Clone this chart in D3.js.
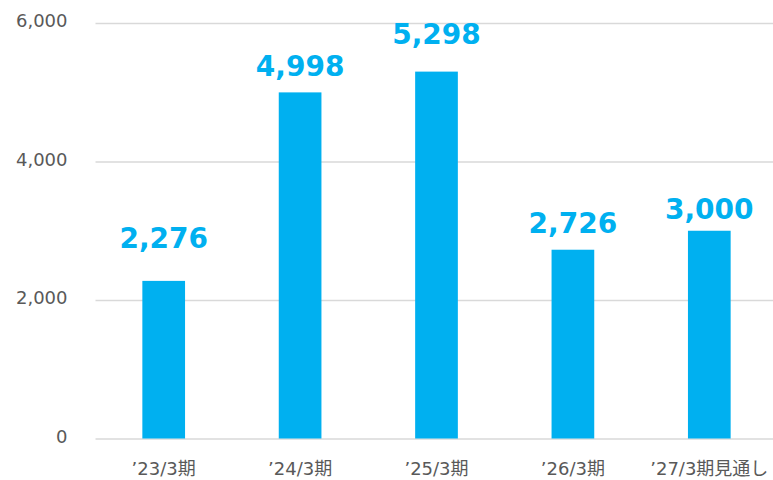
<!DOCTYPE html>
<html>
<head>
<meta charset="utf-8">
<script src="https://cdn.jsdelivr.net/npm/d3@7"></script>
<style>
  body { margin: 0; background: #fff; }
  svg { display: block; }
  svg text { font-family: "DejaVu Sans", "Noto Sans CJK JP", sans-serif; }
</style>
</head>
<body>
<svg></svg>
<script>
const categories = ['’23/3期', '’24/3期', '’25/3期', '’26/3期', '’27/3期見通し']
const values = [2276, 4998, 5298, 2726, 3000]
const yTicks = [0, 2000, 4000, 6000]
// hand-placed label lift above each bar top (px), as in the reference
const labelLift = [33, 16, 28, 17, 12]

const width = 773
const height = 480
const plotLeft = 95.5
const plotRight = 777.5
const plotTop = 23
const plotBottom = 438.5
const barColor = '#00b0f0'
const textColor = '#595959'

const svg = d3.select('svg')
svg.attr('width', width).attr('height', height)

const xScale = d3.scaleBand()
                .domain(categories)
                .range([plotLeft, plotRight])
                .paddingInner(0.687)
                .paddingOuter(0.3435)
const yScale = d3.scaleLinear()
                .domain([0, 6000])
                .range([plotBottom, plotTop])

// gridlines + y labels
const yAxis = d3.axisLeft(yScale)
                .tickValues(yTicks)
                .tickFormat(d3.format(','))
                .tickSize(-(plotRight - plotLeft))
                .tickPadding(28)
svg.append('g')
    .attr('transform', 'translate(' + plotLeft + ', 0)')
    .call(yAxis)
    .call(g => g.select('.domain').remove())
    .call(g => g.selectAll('line').attr('stroke', '#d9d9d9').attr('stroke-width', 1.5))
    .call(g => g.selectAll('text')
        .attr('fill', textColor)
        .attr('dy', '0.2em')
        .style('font-size', '18px'))

svg.selectAll('rect.bar')
    .data(values)
    .enter()
    .append('rect')
    .attr('class', 'bar')
    .attr('fill', barColor)
    .attr('x', (d, i) => xScale(categories[i]))
    .attr('width', xScale.bandwidth())
    .attr('y', d => yScale(d))
    .attr('height', d => plotBottom - yScale(d))

svg.selectAll('text.value')
    .data(values)
    .enter()
    .append('text')
    .attr('class', 'value')
    .attr('x', (d, i) => xScale(categories[i]) + xScale.bandwidth() / 2)
    .attr('y', (d, i) => yScale(d) - labelLift[i])
    .attr('text-anchor', 'middle')
    .attr('fill', barColor)
    .style('font-size', '28px')
    .style('font-weight', 'bold')
    .text(d => d3.format(',')(d))

const xAxis = d3.axisBottom(xScale)
                .tickSize(0)
                .tickPadding(24)
svg.append('g')
    .attr('transform', 'translate(0, ' + plotBottom + ')')
    .call(xAxis)
    .call(g => g.select('.domain').remove())
    .call(g => g.selectAll('text')
        .attr('fill', textColor)
        .style('font-size', '18px'))
</script>
</body>
</html>
